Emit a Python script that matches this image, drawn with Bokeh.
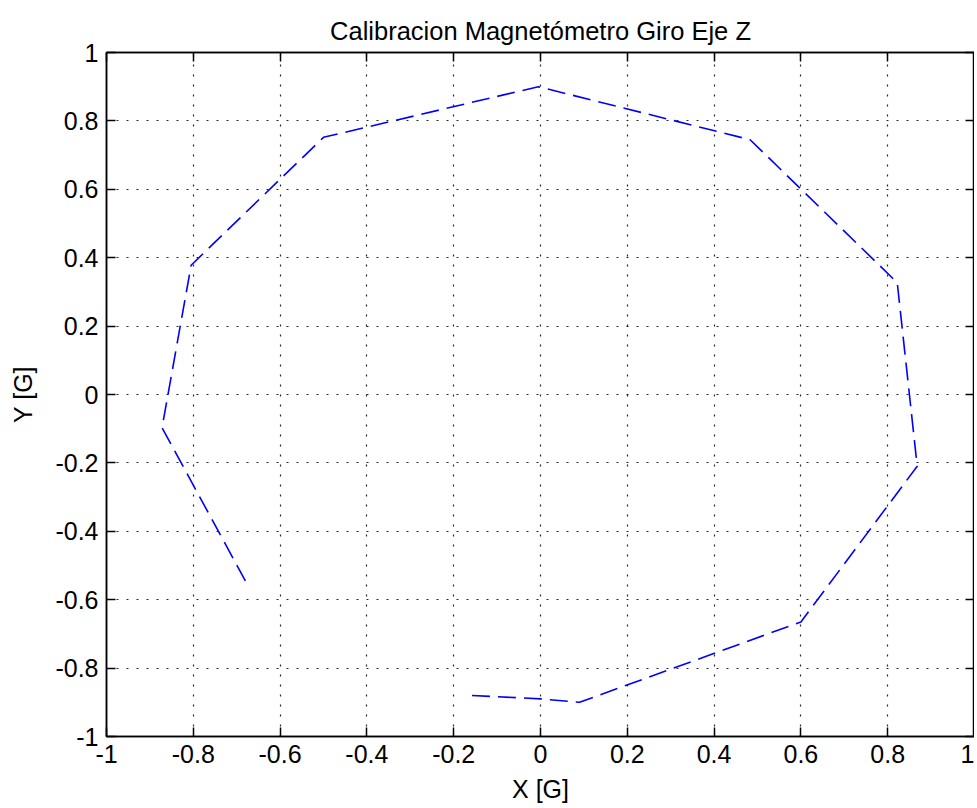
from bokeh.plotting import figure
from bokeh.models import LinearAxis, FixedTicker, Range1d
from bokeh.embed import file_html
from bokeh.resources import INLINE

# Data (magnetometer X/Y in Gauss)
x_vals = [-0.68, -0.872, -0.805, -0.50, -0.005, 0.483, 0.822, 0.868, 0.60, 0.09, 0.0, -0.16]
y_vals = [-0.545, -0.097, 0.378, 0.752, 0.900, 0.745, 0.327, -0.210, -0.665, -0.900, -0.890, -0.880]

tick_vals = [-1, -0.8, -0.6, -0.4, -0.2, 0, 0.2, 0.4, 0.6, 0.8, 1]
tick_labels = ["-1", "-0.8", "-0.6", "-0.4", "-0.2", "0", "0.2", "0.4", "0.6", "0.8", "1"]

title_text = "Calibracion Magnetómetro Giro Eje Z"
x_label = "X [G]"
y_label = "Y [G]"

FONT = "Liberation Sans"
FS = "25px"

p = figure(frame_width=868, frame_height=684,
           x_range=Range1d(-1, 1), y_range=Range1d(-1, 1),
           output_backend="svg", toolbar_location=None,
           min_border_left=106, min_border_top=52, min_border_right=0, min_border_bottom=70,
           background_fill_color="white", border_fill_color="white")

p.title.text = title_text
p.title.align = "center"
p.title.text_font = FONT
p.title.text_font_size = "25.5px"
p.title.text_font_style = "normal"
p.title.text_color = "black"
p.title.standoff = 16

overrides = {v: l for v, l in zip(tick_vals, tick_labels)}
ticker = FixedTicker(ticks=tick_vals)

def style_axis(ax, show_labels, label_standoff=4):
    ax.ticker = ticker
    ax.major_tick_in = 9
    ax.major_tick_out = 0
    ax.minor_tick_line_color = None
    ax.major_tick_line_color = "black"
    ax.major_tick_line_width = 1.5
    ax.axis_line_color = "black"
    ax.axis_line_width = 1.5
    if show_labels:
        ax.major_label_overrides = overrides
        ax.major_label_text_font = FONT
        ax.major_label_text_font_size = FS
        ax.major_label_text_color = "black"
        ax.major_label_standoff = 8
        ax.axis_label_text_font = FONT
        ax.axis_label_text_font_size = FS
        ax.axis_label_text_font_style = "normal"
        ax.axis_label_text_color = "black"
        ax.axis_label_standoff = label_standoff
    else:
        ax.major_label_overrides = {v: "" for v in tick_vals}
        ax.major_label_text_font_size = "0px"
        ax.major_label_standoff = 0

style_axis(p.xaxis[0], True, 9)
style_axis(p.yaxis[0], True, 15)
p.xaxis.axis_label = x_label
p.yaxis.axis_label = y_label

top_ax = LinearAxis()
right_ax = LinearAxis()
style_axis(top_ax, False)
style_axis(right_ax, False)
p.add_layout(top_ax, "above")
p.add_layout(right_ax, "right")

for g in (p.xgrid[0], p.ygrid[0]):
    g.ticker = ticker
    g.grid_line_color = "black"
    g.grid_line_alpha = 0.85
    g.grid_line_width = 1.2
    g.grid_line_dash = "2 8"

p.outline_line_color = "black"
p.outline_line_width = 1.5

p.line(x_vals, y_vals, line_color="#0000ff", line_width=1.6, line_dash="18 8")

open("out.html", "w").write(file_html(p, INLINE))
